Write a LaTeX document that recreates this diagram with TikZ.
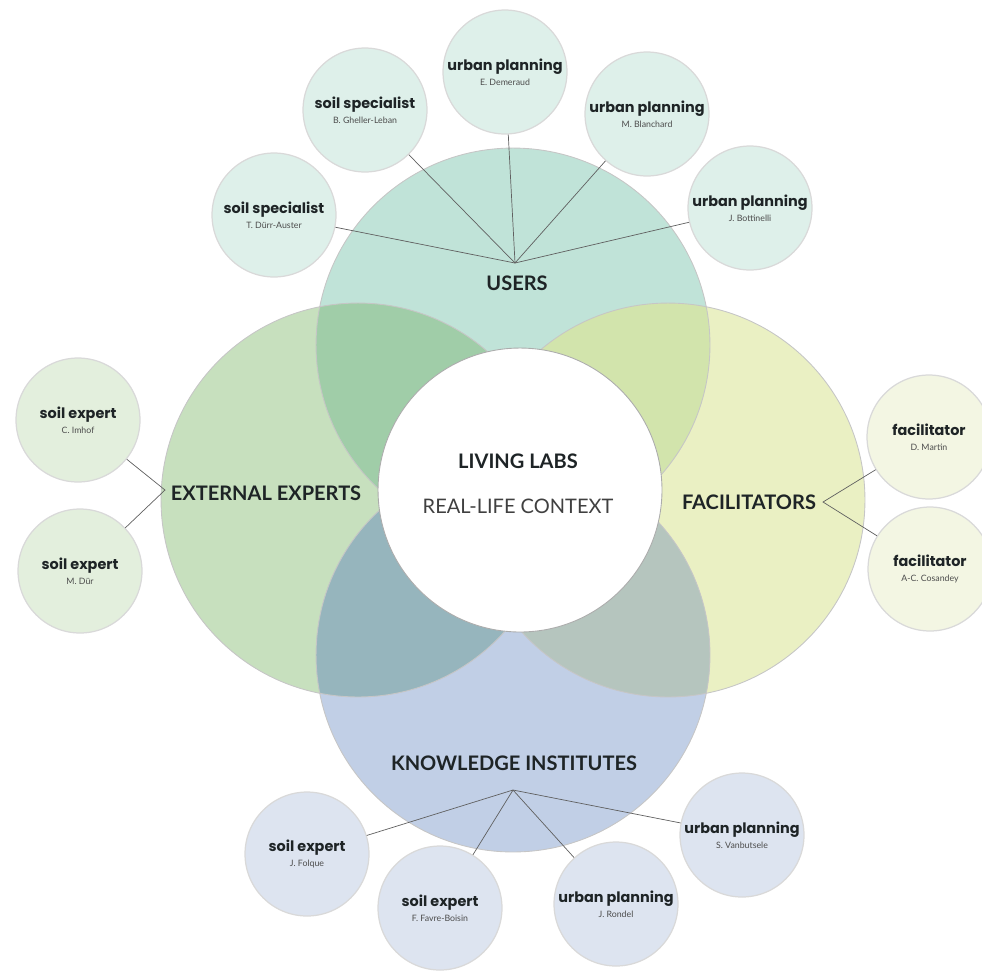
\documentclass[tikz,border=0pt]{standalone}
\usepackage{fontspec}
\setmainfont{Lato}
\newfontfamily\geofont{Poppins}
\usetikzlibrary{positioning}

\definecolor{usersfill}{RGB}{192,227,216}
\definecolor{expertsfill}{RGB}{199,224,190}
\definecolor{facilfill}{RGB}{234,240,195}
\definecolor{knowfill}{RGB}{193,207,230}
\definecolor{uefill}{RGB}{160,205,168}
\definecolor{uffill}{RGB}{210,228,172}
\definecolor{kefill}{RGB}{150,181,189}
\definecolor{kffill}{RGB}{181,197,190}
\definecolor{usersmember}{RGB}{222,240,234}
\definecolor{expertsmember}{RGB}{227,239,221}
\definecolor{facilmember}{RGB}{243,246,227}
\definecolor{knowmember}{RGB}{221,228,240}
\definecolor{inktext}{RGB}{30,36,38}

\tikzset{
    %Define style for circles
    group/.style={
        circle,
        minimum size=7.88cm,
        inner sep=0pt,
    },
    groupedge/.style={
        draw=gray!45,
        line width=0.5pt,
    },
    member/.style={
        circle,
        draw=gray!30,
        line width=0.7pt,
        minimum size=2.48cm,
        inner sep=0pt,
        align=center,
        text=inktext,
    },
    grouplabel/.style={
        font=\fontsize{11.4}{13}\selectfont\bfseries,
        text=inktext,
    },
    link/.style={
        draw=gray!75!black,
        line width=0.4pt,
    },
}
\newcommand{\who}[2]{{\geofont\bfseries\fontsize{8.2}{9}\selectfont #1}\\[-3.5pt]{\fontsize{5}{6}\selectfont\color{black!70} #2}}

\begin{document}
\begin{tikzpicture}[x=0.02cm,y=-0.02cm]
    \useasboundingbox (0,0) rectangle (982,971);
    \clip (0,0) rectangle (982,971);

    % four groups
    \node[group, fill=usersfill] (users) at (513,345) {};
    \node[group, fill=expertsfill] (experts) at (358,500) {};
    \node[group, fill=facilfill] (facil) at (668,500) {};
    \node[group, fill=knowfill] (know) at (513,655) {};

    \begin{scope}
        \clip (users.center) circle[radius=3.94cm];
        \fill[uefill] (experts.center) circle[radius=3.94cm];
        \fill[uffill] (facil.center) circle[radius=3.94cm];
    \end{scope}
    \begin{scope}
        \clip (know.center) circle[radius=3.94cm];
        \fill[kefill] (experts.center) circle[radius=3.94cm];
        \fill[kffill] (facil.center) circle[radius=3.94cm];
    \end{scope}
    \foreach \g in {users,experts,facil,know}
        \draw[groupedge] (\g.center) circle[radius=3.94cm];

    % centre
    \node[circle, fill=white, draw=gray!65, line width=0.5pt, minimum size=5.68cm] (lab) at (520,490) {};
    \node[grouplabel] (labtitle) at (518,461) {LIVING LABS};
    \node[font=\fontsize{11.4}{13}\selectfont, text=black!75] (context) at (518,506) {REAL-LIFE CONTEXT};

    \node[grouplabel] (userslabel) at (517,283) {USERS};
    \node[grouplabel] (expertslabel) at (266,493) {EXTERNAL EXPERTS};
    \node[grouplabel] (faciltlabel) at (749,502) {FACILITATORS};
    \node[grouplabel] (knowlabel) at (514,763) {KNOWLEDGE INSTITUTES};

    \coordinate (uhub) at (515,263);
    \coordinate (ehub) at (165,490);
    \coordinate (fhub) at (823,502);
    \coordinate (khub) at (513,790);

    % users
    \node[member, fill=usersmember] (durr) at (274,215) {\who{soil specialist}{T. D\"urr-Auster}};
    \node[member, fill=usersmember] (gheller) at (365,110) {\who{soil specialist}{B. Gheller-Leban}};
    \node[member, fill=usersmember] (demeraud) at (505,72) {\who{urban planning}{E. Demeraud}};
    \node[member, fill=usersmember] (blanchard) at (647,114) {\who{urban planning}{M. Blanchard}};
    \node[member, fill=usersmember] (bottinelli) at (750,208) {\who{urban planning}{J. Bottinelli}};

    % external experts
    \node[member, fill=expertsmember] (imhof) at (78,420) {\who{soil expert}{C. Imhof}};
    \node[member, fill=expertsmember] (dur) at (80,571) {\who{soil expert}{M. D\"ur}};

    % facilitators
    \node[member, fill=facilmember] (martin) at (929,437) {\who{facilitator}{D. Martin}};
    \node[member, fill=facilmember] (cosandey) at (930,569) {\who{facilitator}{A-C. Cosandey}};

    % knowledge institutes
    \node[member, fill=knowmember] (folque) at (307,854) {\who{soil expert}{J. Folque}};
    \node[member, fill=knowmember] (favre) at (440,908) {\who{soil expert}{F. Favre-Boisin}};
    \node[member, fill=knowmember] (rondel) at (616,904) {\who{urban planning}{J. Rondel}};
    \node[member, fill=knowmember] (vanbutsele) at (742,835) {\who{urban planning}{S. Vanbutsele}};

    \draw[link] (uhub) -- (durr);
    \draw[link] (uhub) -- (gheller);
    \draw[link] (uhub) -- (demeraud);
    \draw[link] (uhub) -- (blanchard);
    \draw[link] (uhub) -- (bottinelli);
    \draw[link] (imhof) -- (ehub) -- (dur);
    \draw[link] (martin) -- (fhub) -- (cosandey);
    \draw[link] (khub) -- (folque);
    \draw[link] (khub) -- (favre);
    \draw[link] (khub) -- (rondel);
    \draw[link] (khub) -- (vanbutsele);
\end{tikzpicture}
\end{document}
